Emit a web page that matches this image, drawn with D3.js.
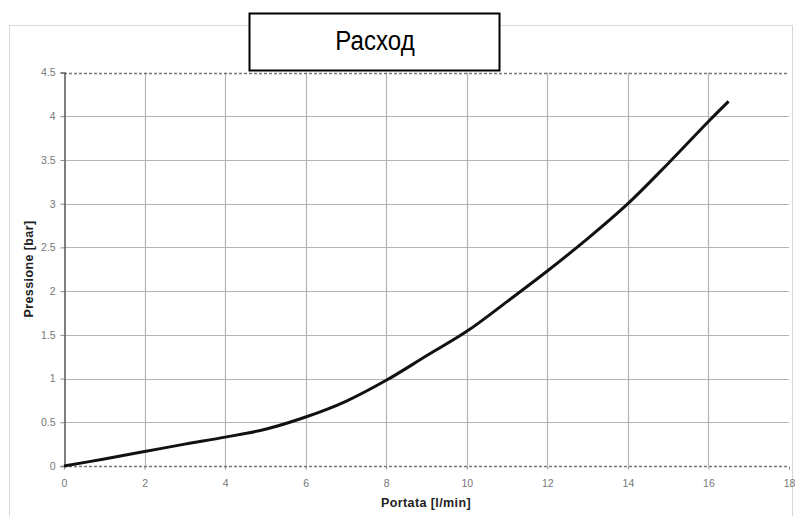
<!DOCTYPE html>
<html>
<head>
<meta charset="utf-8">
<script src="https://cdn.jsdelivr.net/npm/d3@7"></script>
<style>
    body { margin: 0; background: #fff; }
    svg { display: block; font-family: "Liberation Sans", Arial, sans-serif; }
</style>
</head>
<body>
<div id="chart"></div>
<script>
const flow = [0, 1, 2, 3, 4, 5, 6, 7, 8, 9, 10, 11, 12, 13, 14, 15, 16, 16.5];
const pressure = [0, 0.08, 0.165, 0.25, 0.33, 0.42, 0.56, 0.74, 0.98, 1.26, 1.54, 1.88, 2.23, 2.6, 3.0, 3.46, 3.94, 4.17];
const xTicks = [0, 2, 4, 6, 8, 10, 12, 14, 16, 18];
const yTicks = [0, 0.5, 1, 1.5, 2, 2.5, 3, 3.5, 4, 4.5];
const title = "Расход";
const xTitle = "Portata [l/min]";
const yTitle = "Pressione [bar]";

const width = 795;
const height = 516;

const svg = d3
    .select("#chart")
    .append("svg")
    .attr("width", width)
    .attr("height", height);

// outer chart frame
svg.append("rect")
    .attr("x", 9.5)
    .attr("y", 25.5)
    .attr("width", 783)
    .attr("height", 500)
    .attr("fill", "none")
    .attr("stroke", "#d8d8d8");

const xScale = d3.scaleLinear().domain([0, 18]).range([64, 789]);
const yScale = d3.scaleLinear().domain([0, 4.5]).range([466, 72.5]);

// gridlines
svg.append("g")
    .selectAll("line")
    .data(xTicks.filter((d) => d > 0 && d < 18))
    .join("line")
    .attr("x1", (d) => Math.round(xScale(d)) + 0.5)
    .attr("x2", (d) => Math.round(xScale(d)) + 0.5)
    .attr("y1", yScale(4.5))
    .attr("y2", yScale(0))
    .attr("stroke", "#b4b4b4")
    .attr("stroke-width", 1.2);

svg.append("g")
    .selectAll("line")
    .data(yTicks.filter((d) => d > 0 && d < 4.5))
    .join("line")
    .attr("x1", xScale(0))
    .attr("x2", xScale(18))
    .attr("y1", (d) => Math.round(yScale(d)) + 0.5)
    .attr("y2", (d) => Math.round(yScale(d)) + 0.5)
    .attr("stroke", "#b4b4b4")
    .attr("stroke-width", 1.2);

// dotted top border and bottom axis
[4.5, 0].forEach((v) => {
    svg.append("line")
        .attr("x1", xScale(0))
        .attr("x2", xScale(18))
        .attr("y1", Math.round(yScale(v)) + 0.5)
        .attr("y2", Math.round(yScale(v)) + 0.5)
        .attr("stroke", "#777")
        .attr("stroke-width", 1.3)
        .attr("stroke-dasharray", "3,2");
});

// axes
const xAxis = d3.axisBottom(xScale).tickValues(xTicks).tickSize(3).tickFormat(d3.format("d"));
const yAxis = d3.axisLeft(yScale).tickValues(yTicks).tickSize(4).tickFormat((d) => String(d));

const gx = svg.append("g")
    .attr("transform", `translate(0, ${Math.round(yScale(0)) + 0.5})`)
    .call(xAxis);
gx.select(".domain").remove();
gx.selectAll("line").attr("stroke", "#888");
gx.selectAll("text")
    .attr("fill", "#777")
    .attr("font-size", 10.5)
    .attr("dy", "1.4em");

const gy = svg.append("g")
    .attr("transform", `translate(${Math.round(xScale(0)) + 0.5}, 0)`)
    .call(yAxis);
gy.select(".domain").attr("stroke", "#555").attr("stroke-width", 1.5);
gy.selectAll("line").attr("stroke", "#888");
gy.selectAll("text")
    .attr("fill", "#777")
    .attr("font-size", 10.5)
    .attr("x", -9);

// axis titles
svg.append("text")
    .attr("x", 426)
    .attr("y", 507)
    .attr("text-anchor", "middle")
    .attr("font-size", 12.5)
    .attr("font-weight", "bold")
    .attr("letter-spacing", 0.4)
    .attr("fill", "#222")
    .text(xTitle);

svg.append("text")
    .attr("transform", "translate(33, 269) rotate(-90)")
    .attr("text-anchor", "middle")
    .attr("font-size", 12.5)
    .attr("font-weight", "bold")
    .attr("letter-spacing", 0.4)
    .attr("fill", "#222")
    .text(yTitle);

// curve
const points = flow.map((f, i) => ({ x: f, y: pressure[i] }));
const line = d3.line()
    .x((d) => xScale(d.x))
    .y((d) => yScale(d.y))
    .curve(d3.curveCatmullRom.alpha(0.5));

svg.append("path")
    .datum(points)
    .attr("d", line)
    .attr("fill", "none")
    .attr("stroke", "#111")
    .attr("stroke-width", 3)
    .attr("stroke-linecap", "butt");

// title box
svg.append("rect")
    .attr("x", 249.5)
    .attr("y", 13.5)
    .attr("width", 250)
    .attr("height", 57)
    .attr("fill", "#fff")
    .attr("stroke", "#000")
    .attr("stroke-width", 2);

// narrow-looking title (condensed horizontally)
svg.append("text")
    .attr("transform", "translate(375, 50) scale(0.86, 1)")
    .attr("text-anchor", "middle")
    .attr("font-size", 28)
    .attr("fill", "#000")
    .text(title);
</script>
</body>
</html>
